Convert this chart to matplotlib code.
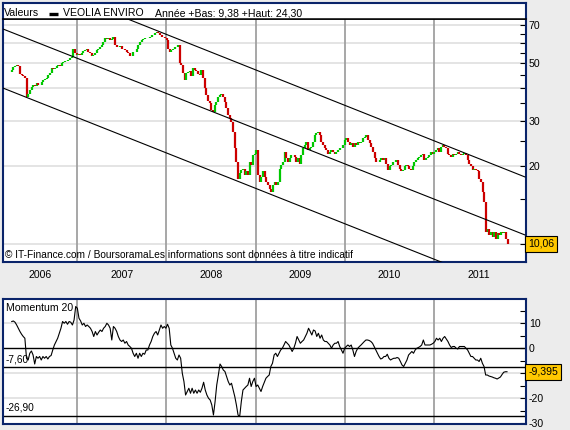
import numpy as np
import matplotlib.pyplot as plt
from matplotlib.transforms import blended_transform_factory

plt.rcParams['font.family'] = ['Liberation Sans', 'DejaVu Sans']

# weekly closes (VEOLIA ENVIRO)
closes = [
    46.3, 47.1, 48.2, 48.7, 49.2, 49.0, 45.4, 44.9, 44.5, 43.8,
    37.1, 38.2, 39.4, 40.6, 41.2, 41.0, 41.8, 41.2, 41.2, 42.4,
    43.1, 43.5, 43.8, 45.1, 45.8, 47.9, 47.6, 47.9, 49.0, 49.2,
    48.7, 50.2, 50.6, 50.9, 51.2, 51.5, 52.5, 52.7, 57.0, 54.6,
    53.8, 54.1, 53.8, 54.8, 55.6, 56.3, 56.8, 55.3, 54.6, 53.2,
    53.8, 54.6, 56.3, 57.0, 57.9, 58.8, 60.6, 62.4, 62.0, 62.4,
    61.5, 62.0, 63.4, 58.8, 57.9, 57.9, 58.4, 57.0, 57.0, 56.3,
    55.3, 54.6, 53.5, 53.2, 55.3,
    55.3, 57.0, 58.8, 60.6, 61.5, 62.0, 62.4, 62.4, 62.8, 63.4,
    64.0, 64.3, 65.4, 66.0, 65.4, 64.3, 63.4, 63.4, 62.4, 61.5,
    57.0, 55.3, 56.3, 57.0, 57.9, 57.9, 58.8, 50.2, 49.2, 45.8,
    43.1, 45.8, 46.2, 46.5, 44.5, 47.9, 47.1, 46.5, 45.4, 45.1,
    47.1, 43.8, 40.0, 37.7, 35.8, 35.0, 33.0, 32.5, 34.5, 35.5,
    37.1, 37.7, 37.9, 37.1, 35.5, 33.5, 31.6, 30.7, 29.7, 27.2,
    23.5, 20.8, 17.9, 18.8, 19.4, 19.6, 18.5, 19.1, 18.5, 20.8,
    20.2, 22.1, 22.4, 23.1, 18.5, 17.4, 18.2, 19.1,
    18.2, 17.4, 16.9, 16.4, 15.9, 16.9, 17.4, 16.9, 17.4, 19.6,
    20.2, 20.8, 22.8, 21.5, 20.8, 21.5, 22.1, 22.1, 21.8, 20.8,
    21.5, 20.5, 22.1, 23.5, 24.2, 24.9, 23.1, 23.5, 23.8, 24.9,
    26.4, 26.8, 27.2, 26.4, 24.9, 24.2, 23.5, 23.1, 22.4, 22.8,
    23.1, 22.8, 22.4, 22.8, 23.1, 23.5, 23.5, 24.2, 25.3, 25.7,
    24.9, 24.2, 24.5, 23.8, 24.5, 24.2, 24.9, 24.5, 24.9, 25.7,
    26.0, 26.4, 25.3, 24.5, 23.8, 22.8, 21.5, 20.8, 20.8, 21.2,
    21.5, 21.2, 21.5, 20.5, 19.4, 20.0, 20.2, 20.8,
    20.8, 21.2, 20.2, 19.6, 19.1, 19.4, 20.0, 20.2, 20.0, 19.6,
    19.4, 20.0, 20.8, 21.2, 21.5, 21.8, 22.1, 22.4, 21.2, 21.5,
    21.8, 22.1, 22.8, 22.4, 22.8, 23.1, 23.5, 22.8, 23.8, 24.2,
    23.8, 23.5, 22.4, 22.1, 21.8, 22.4, 22.1, 22.4, 22.8, 22.4,
    22.1, 22.4, 22.6, 22.1, 21.2, 20.5, 20.0, 19.4, 19.6, 19.4,
    19.1, 17.9, 17.4, 15.9, 14.6, 11.2, 11.5, 10.9, 11.2, 10.7,
    11.2, 10.5, 11.1, 10.9, 11.2, 11.1, 11.2, 10.5, 10.06,
]
price_first, price_last = 2006.250, 2011.823

# momentum 20
momentum = [
    10.7, 10.9, 10.4, 9.3, 8.0, 6.7, 5.6, 4.7, 4.0, -4.0,
    -4.7, -2.0, -1.1, -2.7, -6.3, -3.3, -4.0, -3.3, -4.7, -3.3,
    -4.0, -3.3, -4.3, -3.3, -2.9, -0.7, 1.3, 2.7, 4.0, 6.0,
    8.0, 10.7, 10.0, 10.7, 9.6, 10.7, 10.4, 9.3, 11.3, 16.7,
    16.0, 12.0, 10.9, 9.3, 10.0, 8.7, 9.3, 8.7, 8.0, 6.7,
    4.7, 6.7, 5.3, 6.4, 7.3, 6.7, 8.0, 8.7, 10.0, 9.3,
    8.0, 3.3, 8.7, 8.0, 6.7, 4.7, 3.3, 2.7, 3.3, 2.0,
    2.7, 1.3, 0.7, 0, -2.0, -3.3, -2.0, -4.0, -2.0, -3.3,
    -2.0, -2.4, -0.7, -0.7, 1.3, 2.7, 4.7, 6.0, 6.7, 5.3,
    7.3, 9.3, 8.0, 8.7, 8.0, 9.6, 8.0, 1.3, 0, -2.0,
    -4.0, -4.7, -2.7, -4.0, -10.0, -13.3, -18.7, -17.3, -16.0, -18.0,
    -16.0, -18.0, -16.7, -18.0, -16.7, -17.6, -16.0, -13.6, -16.7, -18.7,
    -20.0, -20.7, -22.7, -26.7, -21.3, -14.7, -10.7, -6.3, -7.3, -8.7,
    -9.3, -11.3, -13.3, -14.7, -14.0, -16.7, -19.3, -22.7, -26.7, -27.3,
    -21.3, -16.7, -16.0, -15.3,
    -14.7, -12.0, -15.3, -13.3, -12.0, -15.3, -14.7, -16.0, -17.3, -15.3,
    -13.6, -12.0, -11.3, -10.7, -7.3, -6.0, -2.7, -2.0, -3.3, -2.0,
    -0.7, 0, 1.3, 2.7, 2.0, 1.3, 0, -1.3, 0, 2.0,
    4.7, 3.3, 2.0, 2.7, 3.3, 4.7, 6.0, 8.0, 6.7, 5.3,
    7.3, 6.9, 4.7, 6.0, 4.0, 5.3, 3.3, 2.7, 2.7, 2.0,
    1.3, 0, 1.3, 2.0, 2.0, 2.7, 0.7, -0.7, -2.0, 0,
    0.7, 1.3, 0.7, 1.3, -0.7, -3.3, -1.3, 0, 0.7, 1.3,
    2.0, 2.7, 3.3, 3.3, 3.1, 2.7, 2.0, 0.7, -0.7, -2.0,
    -3.3, -4.3, -4.0, -3.3, -3.3, -2.4, -4.0, -4.7, -4.3, -4.0,
    -4.0, -3.7, -4.0, -5.3, -6.7, -7.3, -6.0, -4.7, -2.7, -2.0,
    -1.3, -2.0, -0.7, 0, 0.3, 0.7, 1.3, 3.3, 1.3, 1.3,
    1.3, 1.3, 1.6, 2.0, 2.7, 4.0, 3.3, 4.0, 2.7, 4.0,
    4.7, 3.7, 2.7, 1.3, 0.3, 0.7, 0.7, 0, -0.3, 0.7,
    0.7, 0.7, 0.7, 0, -0.7, -2.0, -3.3, -3.3, -4.0, -4.7,
    -4.7, -5.3, -4.0, -6.0, -7.3, -10.7, -10.7,
    -11.1, -11.3, -11.5, -11.8, -12.0, -12.3, -11.9, -11.5, -10.5, -9.6,
    -9.4, -9.395,
]
mom_first, mom_last = 2006.269, 2011.815

# regression channel (two points each, date / price)
upper_dates, upper_prices = [2007.258, 2012.017], [81.7, 18.19]
middle_dates, middle_prices = [2006.171, 2012.017], [67.8, 10.86]
lower_dates, lower_prices = [2006.171, 2012.028], [40.1, 6.33]

years = [2006, 2007, 2008, 2009, 2010, 2011]
year_lines = [2007, 2008, 2009, 2010, 2011]
x_range = (2006.171, 2012.028)

price_grid = [10, 20, 30, 40, 50, 60, 70]
price_ticks = list(range(10, 75, 5))
price_labeled = [20, 30, 50, 70]
price_range = (8.54, 74.1)

mom_ticks = list(range(-30, 20, 5))
mom_labeled = [10, 0, -20, -30]   # -10 sits under the value box
mom_grid = [10, -10, -20]
mom_levels = [0, -7.6, -26.9]
mom_level_labels = {-7.6: '-7,60', -26.9: '-26,90'}
mom_range = (-30.1, 19.7)

last_price = 10.06
last_mom = -9.395

NAVY = '#0A246A'
GREEN = '#00C800'
RED = '#CC0000'
GRID = '#DCDCDC'
VGRID = '#A0A0A0'
BOX = '#FFC800'
FS = 7.6

W, H = 570, 430
fig = plt.figure(figsize=(W / 100, H / 100), dpi=100, facecolor='#ECECEC')


def px_axes(x0, y0, x1, y1):
    # axes from pixel box (top-left origin)
    return fig.add_axes([x0 / W, 1 - y1 / H, (x1 - x0) / W, (y1 - y0) / H])


ax = px_axes(3, 19, 526, 262)
head = px_axes(3, 3, 526, 19)
axm = px_axes(3, 299, 526, 423.5)

# ---- header strip
head.set_xticks([])
head.set_yticks([])
for s in ['top', 'left', 'right']:
    head.spines[s].set_color(NAVY)
    head.spines[s].set_linewidth(1.5)
head.spines['bottom'].set_color('black')
head.spines['bottom'].set_linewidth(1.1)
head.text(0.002, 0.16, 'Valeurs', fontsize=FS, va='baseline')
head.plot([0.088, 0.105], [0.33, 0.33], color='black', lw=2.4,
          solid_capstyle='butt')
head.text(0.1147, 0.16, 'VEOLIA ENVIRO', fontsize=FS, va='baseline')
head.text(0.2906, 0.16, 'Année +Bas: 9,38 +Haut: 24,30', fontsize=FS,
          va='baseline')
head.set_xlim(0, 1)
head.set_ylim(0, 1)

# ---- price panel
ax.set_yscale('log')
ax.set_xlim(*x_range)
ax.set_ylim(*price_range)
for v in price_grid:
    ax.axhline(v, color=GRID, lw=1.1, zorder=0)
for v in year_lines:
    ax.axvline(v, color=VGRID, lw=1.3, zorder=0)

dates = np.linspace(price_first, price_last, len(closes))
c = np.array(closes)
o = np.concatenate([[c[0]], c[:-1]])
cols = [GREEN if cc >= oo else RED for cc, oo in zip(c, o)]
ax.vlines(dates, np.minimum(o, c), np.maximum(o, c), colors=cols, lw=1.6,
          zorder=3)

for d, p in [(upper_dates, upper_prices), (middle_dates, middle_prices),
             (lower_dates, lower_prices)]:
    ax.plot(d, p, color='black', lw=0.8, zorder=4)

ax.yaxis.tick_right()
ax.minorticks_off()
ax.set_yticks(price_ticks)
ax.set_yticklabels([str(t) if t in price_labeled else '' for t in price_ticks])
ax.tick_params(axis='y', direction='in', length=4, width=0.8, pad=2,
               labelsize=FS, right=True, left=False)
ax.set_xticks([])
for s in ['left', 'right', 'bottom']:
    ax.spines[s].set_color(NAVY)
    ax.spines[s].set_linewidth(1.5)
ax.spines['top'].set_color('black')
ax.spines['top'].set_linewidth(1.1)

ax.text(0.004, 0.03,
        '© IT-Finance.com / BoursoramaLes informations sont données à titre indicatif',
        transform=ax.transAxes, fontsize=7.3, va='center', ha='left')

tr = blended_transform_factory(ax.transAxes, ax.transData)
ax.text(1.004, last_price, '10,06', transform=tr, fontsize=FS, va='center',
        ha='left', clip_on=False, zorder=10,
        bbox=dict(boxstyle='square,pad=0.28', fc=BOX, ec='black', lw=0.8))

# year labels between the panels
ytr = blended_transform_factory(ax.transData, fig.transFigure)
for y in years:
    xc = y + 0.5
    if y == years[0]:
        xc = (x_range[0] + y + 1) / 2
    fig.text(xc, 1 - 275 / H, str(y), transform=ytr, fontsize=FS,
             ha='center', va='center')

# ---- momentum panel
axm.set_xlim(*x_range)
axm.set_ylim(*mom_range)
for v in mom_grid:
    axm.axhline(v, color=GRID, lw=1.1, zorder=0)
for v in year_lines:
    axm.axvline(v, color=VGRID, lw=1.3, zorder=0)
for v in mom_levels:
    axm.axhline(v, color='black', lw=1.0, zorder=2)

mdates = np.linspace(mom_first, mom_last, len(momentum))
axm.plot(mdates, momentum, color='black', lw=0.8, zorder=3)

mtr = blended_transform_factory(axm.transAxes, axm.transData)
for v, lab in mom_level_labels.items():
    axm.text(0.005, v + 1.0, lab, transform=mtr, fontsize=7.3, va='bottom',
             ha='left')
axm.text(0.005, 0.965, 'Momentum 20', transform=axm.transAxes, fontsize=FS,
         va='top', ha='left')

axm.yaxis.tick_right()
axm.set_yticks(mom_ticks)
axm.set_yticklabels([str(t) if t in mom_labeled else '' for t in mom_ticks])
axm.tick_params(axis='y', direction='in', length=4, width=0.8, pad=2,
                labelsize=FS, right=True, left=False)
axm.set_xticks([])
for s in axm.spines.values():
    s.set_color(NAVY)
    s.set_linewidth(1.5)

axm.text(1.004, last_mom, '-9,395', transform=mtr, fontsize=FS, va='center',
         ha='left', clip_on=False, zorder=10,
         bbox=dict(boxstyle='square,pad=0.28', fc=BOX, ec='black', lw=0.8))

fig.savefig('out.png', dpi=100, facecolor=fig.get_facecolor())
